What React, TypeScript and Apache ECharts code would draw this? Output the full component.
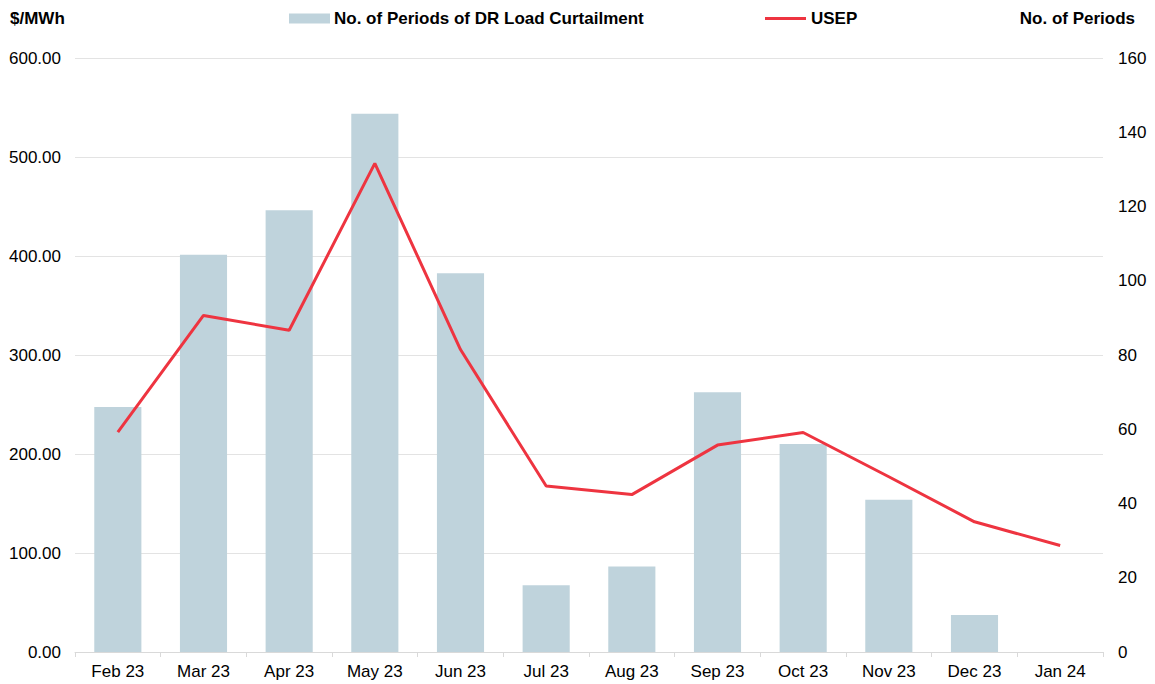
import React, { useEffect, useRef } from "react";
import * as echarts from "echarts";

const categories = ["Feb 23", "Mar 23", "Apr 23", "May 23", "Jun 23", "Jul 23", "Aug 23", "Sep 23", "Oct 23", "Nov 23", "Dec 23", "Jan 24"];
const periods = [66, 107, 119, 145, 102, 18, 23, 70, 56, 41, 10, 0];
const usep = [222, 340, 325, 493.6, 305.5, 167.7, 159, 209, 221.7, 177, 131.5, 107.6];
const barName = "No. of Periods of DR Load Curtailment";
const lineName = "USEP";

const FONT = "'Liberation Sans', Arial, sans-serif";

export default function App() {
  const ref = useRef<HTMLDivElement>(null);
  useEffect(() => {
    document.body.style.margin = "0";
    const chart = echarts.init(ref.current!, null, { renderer: "svg" });
    chart.setOption({
      animation: false,
      textStyle: { fontFamily: FONT },
      grid: { left: 75, right: 52, top: 58, bottom: 32, containLabel: false },
      legend: [
        {
          data: [barName],
          left: 289,
          top: 10,
          padding: 0,
          icon: "rect",
          itemWidth: 41,
          itemHeight: 10,
          textStyle: { fontFamily: FONT, fontSize: 17, fontWeight: "bold", color: "#000", padding: [0, 0, 0, -1] },
        },
        {
          data: [lineName],
          left: 765,
          top: 10,
          padding: 0,
          icon: "rect",
          itemWidth: 41,
          itemHeight: 3,
          textStyle: { fontFamily: FONT, fontSize: 17, fontWeight: "bold", color: "#000" },
        },
      ],
      graphic: [
        {
          type: "text",
          left: 10,
          top: 10,
          style: { text: "$/MWh", font: `bold 17px ${FONT}`, fill: "#000" },
        },
        {
          type: "text",
          right: 20,
          top: 10,
          style: { text: "No. of Periods", font: `bold 17px ${FONT}`, fill: "#000" },
        },
      ],
      xAxis: {
        type: "category",
        data: categories,
        boundaryGap: true,
        axisLine: { lineStyle: { color: "#d9d9d9", width: 1 } },
        axisTick: { show: true, length: 5, lineStyle: { color: "#d9d9d9" } },
        axisLabel: { color: "#000", fontSize: 17, fontFamily: FONT, margin: 11 },
      },
      yAxis: [
        {
          type: "value",
          min: 0,
          max: 600,
          interval: 100,
          position: "left",
          axisLine: { show: false },
          axisTick: { show: false },
          splitLine: { lineStyle: { color: "#e3e3e3", width: 1 } },
          axisLabel: {
            color: "#000",
            fontSize: 17,
            fontFamily: FONT,
            margin: 14,
            formatter: (v: number) => v.toFixed(2),
          },
        },
        {
          type: "value",
          min: 0,
          max: 160,
          interval: 20,
          position: "right",
          axisLine: { show: false },
          axisTick: { show: false },
          splitLine: { show: false },
          axisLabel: { color: "#000", fontSize: 17, fontFamily: FONT, margin: 15 },
        },
      ],
      series: [
        {
          name: barName,
          type: "bar",
          yAxisIndex: 1,
          data: periods,
          barCategoryGap: "45%",
          itemStyle: { color: "#bfd3dc" },
        },
        {
          name: lineName,
          type: "line",
          yAxisIndex: 0,
          data: usep,
          symbol: "none",
          lineStyle: { color: "#ee3440", width: 3 },
          itemStyle: { color: "#ee3440" },
        },
      ],
    });
    return () => chart.dispose();
  }, []);
  return <div ref={ref} style={{ width: 1155, height: 684 }} />;
}
